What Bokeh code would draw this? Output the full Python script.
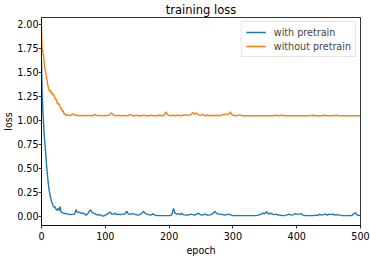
from bokeh.plotting import figure
from bokeh.models import Range1d, FixedTicker, NumeralTickFormatter, Legend, LegendItem
from bokeh.embed import file_html
from bokeh.resources import INLINE

# ---- data ----
blue_epochs = [0, 1, 2, 3, 4, 5, 6, 7, 8, 9, 10, 11, 12, 13, 14, 15, 16, 17, 18, 19,
               20, 21, 22, 23, 24, 25, 26, 27, 28, 29, 30, 31, 32, 34, 36, 38, 40, 43, 46, 49,
               52, 54, 55, 57, 60, 62, 65, 68, 70, 73, 75, 77, 79, 82, 85, 88, 91, 94, 97, 100,
               103, 106, 108, 110, 113, 116, 118, 121, 124, 127, 130, 134, 136, 139, 142, 145, 148, 151, 154, 157,
               160, 162, 165, 168, 171, 175, 178, 181, 185, 190, 195, 200, 204, 207, 209, 212, 215, 218, 220, 222,
               226, 230, 234, 237, 240, 243, 246, 249, 252, 256, 259, 262, 266, 269, 272, 274, 277, 280, 284, 287,
               290, 294, 297, 300, 305, 310, 315, 320, 325, 330, 335, 340, 344, 347, 350, 353, 356, 359, 362, 365,
               368, 371, 374, 377, 380, 384, 388, 391, 395, 398, 401, 404, 407, 410, 414, 418, 422, 426, 430, 433,
               436, 439, 442, 445, 448, 451, 454, 457, 460, 463, 467, 471, 475, 479, 483, 486, 489, 492, 494, 497, 500]
blue_loss = [1.62, 1.30, 1.12, 1.00, 0.88, 0.78, 0.70, 0.62, 0.52, 0.45, 0.38, 0.32, 0.27, 0.23, 0.20, 0.17, 0.15, 0.13, 0.11, 0.10,
             0.09, 0.10, 0.08, 0.07, 0.06, 0.07, 0.08, 0.06, 0.07, 0.10, 0.06, 0.04, 0.04, 0.03, 0.025, 0.03, 0.02, 0.02, 0.015, 0.02,
             0.02, 0.07, 0.05, 0.04, 0.04, 0.03, 0.03, 0.02, 0.01, 0.03, 0.05, 0.065, 0.04, 0.03, 0.02, 0.01, 0.015, 0.005, 0.0, 0.01,
             0.02, 0.035, 0.04, 0.02, 0.02, 0.03, 0.015, 0.02, 0.015, 0.02, 0.02, 0.05, 0.02, 0.02, 0.025, 0.02, 0.015, 0.01, 0.015, 0.03,
             0.05, 0.03, 0.02, 0.015, 0.01, 0.025, 0.01, 0.005, 0.005, 0.005, 0.005, 0.005, 0.01, 0.08, 0.03, 0.02, 0.025, 0.015, 0.03, 0.015,
             0.01, 0.01, 0.02, 0.015, 0.01, 0.02, 0.03, 0.015, 0.01, 0.02, 0.01, 0.01, 0.015, 0.03, 0.05, 0.03, 0.02, 0.02, 0.015, 0.01,
             0.015, 0.02, 0.01, 0.005, 0.005, 0.005, 0.005, 0.005, 0.005, 0.005, 0.005, 0.01, 0.02, 0.03, 0.025, 0.045, 0.02, 0.03, 0.02, 0.015,
             0.02, 0.01, 0.01, 0.005, 0.005, 0.01, 0.02, 0.01, 0.015, 0.025, 0.02, 0.02, 0.025, 0.01, 0.005, 0.005, 0.005, 0.005, 0.01, 0.005,
             0.02, 0.01, 0.015, 0.02, 0.01, 0.02, 0.015, 0.02, 0.01, 0.015, 0.01, 0.005, 0.005, 0.005, 0.005, 0.005, 0.02, 0.035, 0.015, 0.005, 0.01]

orange_epochs = [0, 1, 2, 3, 4, 5, 6, 7, 8, 9, 10, 11, 12, 13, 14, 15, 16, 17, 18, 19,
                 20, 21, 22, 23, 24, 25, 26, 27, 28, 29, 30, 31, 32, 33, 34, 35, 36, 37, 38, 40,
                 42, 44, 46, 48, 50, 52, 54, 56, 58, 61, 64, 67, 70, 73, 76, 79, 82, 84, 86, 89,
                 92, 95, 98, 101, 104, 107, 109, 111, 114, 117, 120, 123, 126, 129, 132, 135, 139, 142, 145, 148,
                 152, 156, 160, 164, 168, 172, 176, 180, 184, 188, 192, 195, 198, 202, 206, 210, 214, 218, 222, 226,
                 230, 234, 237, 240, 243, 246, 250, 253, 256, 260, 264, 268, 272, 276, 280, 284, 287, 290, 293, 296,
                 298, 301, 305, 308, 311, 315, 320, 325, 330, 335, 340, 345, 350, 355, 360, 364, 368, 372, 378, 382,
                 386, 390, 395, 400, 405, 410, 415, 420, 425, 430, 435, 440, 444, 448, 452, 456, 462, 466, 470, 475,
                 480, 485, 490, 495, 500]
orange_loss = [1.97, 1.75, 1.72, 1.68, 1.62, 1.55, 1.52, 1.47, 1.44, 1.40, 1.36, 1.33, 1.31, 1.30, 1.31, 1.28, 1.29, 1.27, 1.26, 1.27,
               1.25, 1.23, 1.21, 1.22, 1.19, 1.17, 1.18, 1.16, 1.17, 1.14, 1.12, 1.13, 1.10, 1.09, 1.10, 1.07, 1.06, 1.07, 1.05, 1.05,
               1.055, 1.045, 1.05, 1.06, 1.065, 1.05, 1.055, 1.045, 1.05, 1.045, 1.05, 1.045, 1.05, 1.045, 1.05, 1.045, 1.05, 1.06, 1.05, 1.045,
               1.05, 1.045, 1.05, 1.045, 1.05, 1.055, 1.075, 1.065, 1.05, 1.045, 1.05, 1.045, 1.045, 1.05, 1.045, 1.045, 1.06, 1.045, 1.045, 1.05,
               1.045, 1.045, 1.05, 1.045, 1.045, 1.05, 1.045, 1.045, 1.05, 1.045, 1.05, 1.085, 1.055, 1.045, 1.05, 1.045, 1.05, 1.045, 1.05, 1.055,
               1.05, 1.055, 1.08, 1.06, 1.075, 1.055, 1.05, 1.06, 1.045, 1.05, 1.045, 1.05, 1.045, 1.05, 1.045, 1.06, 1.055, 1.065, 1.06, 1.085,
               1.06, 1.05, 1.045, 1.05, 1.055, 1.045, 1.045, 1.045, 1.045, 1.045, 1.045, 1.045, 1.045, 1.045, 1.045, 1.045, 1.05, 1.045, 1.05, 1.045,
               1.045, 1.045, 1.045, 1.045, 1.045, 1.045, 1.045, 1.045, 1.05, 1.045, 1.045, 1.045, 1.05, 1.045, 1.045, 1.045, 1.05, 1.045, 1.045, 1.045,
               1.045, 1.045, 1.045, 1.045, 1.045]

x_ticks = [0, 100, 200, 300, 400, 500]
y_ticks = [0.0, 0.25, 0.5, 0.75, 1.0, 1.25, 1.5, 1.75, 2.0]

FONT = "DejaVu Sans"
BLUE = "#1f77b4"
ORANGE = "#ff7f0e"

p = figure(width=370, height=258, output_backend="svg", toolbar_location=None,
           x_range=Range1d(0, 500), y_range=Range1d(-0.098, 2.069),
           min_border_left=41, min_border_right=10, min_border_top=16, min_border_bottom=31,
           title="training loss")

p.title.align = "center"
p.title.text_font = FONT
p.title.text_font_size = "11.5px"
p.title.text_font_style = "normal"
p.title.text_color = "black"
p.title.standoff = 1

p.background_fill_color = "white"
p.border_fill_color = "white"
p.outline_line_color = "black"
p.outline_line_width = 0.8
p.grid.visible = False

for ax in (p.xaxis[0], p.yaxis[0]):
    ax.axis_line_color = "black"
    ax.axis_line_width = 0.8
    ax.major_tick_line_color = "black"
    ax.major_tick_line_width = 0.8
    ax.major_tick_out = 3
    ax.major_tick_in = 0
    ax.minor_tick_line_color = None
    ax.major_label_text_font = FONT
    ax.major_label_text_font_size = "9.6px"
    ax.major_label_text_color = "black"
    ax.axis_label_text_font = FONT
    ax.axis_label_text_font_size = "9.6px"
    ax.axis_label_text_font_style = "normal"
    ax.axis_label_text_color = "black"

p.xaxis.ticker = FixedTicker(ticks=x_ticks)
p.yaxis.ticker = FixedTicker(ticks=y_ticks)
p.yaxis.formatter = NumeralTickFormatter(format="0.00")
p.xaxis.axis_label = "epoch"
p.yaxis.axis_label = "loss"
p.xaxis.major_label_standoff = 3
p.yaxis.major_label_standoff = 0
p.xaxis.axis_label_standoff = 2
p.yaxis.axis_label_standoff = 0

r1 = p.line(blue_epochs, blue_loss, line_color=BLUE, line_width=1.4)
r2 = p.line(orange_epochs, orange_loss, line_color=ORANGE, line_width=1.4)

legend = Legend(items=[LegendItem(label="with pretrain", renderers=[r1]),
                       LegendItem(label="without pretrain", renderers=[r2])],
                location="top_right")
legend.label_text_font = FONT
legend.label_text_font_size = "9.6px"
legend.label_height = 12
legend.glyph_height = 12
legend.glyph_width = 20
legend.label_standoff = 8
legend.spacing = 2
legend.padding = 4
legend.margin = 4
legend.border_line_color = "#cccccc"
legend.border_line_width = 1
legend.background_fill_alpha = 0.8
p.add_layout(legend)

open("out.html", "w").write(file_html(p, INLINE))
